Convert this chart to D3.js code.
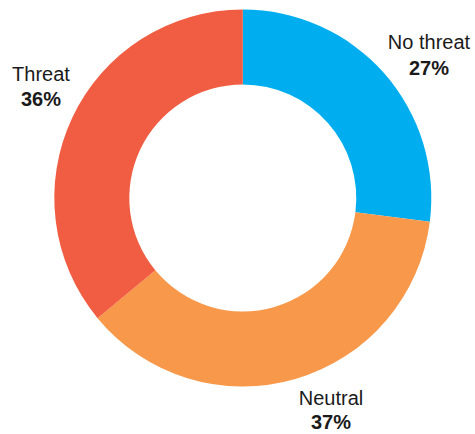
<!DOCTYPE html>
<html>
<head>
<meta charset="utf-8">
<script src="https://cdn.jsdelivr.net/npm/d3@7"></script>
<style>
  html, body { margin: 0; padding: 0; background: #fff; }
  svg text { font-family: "Liberation Sans", Arial, Helvetica, sans-serif; fill: #1a1a1a; }
</style>
</head>
<body>
<svg id="chart" width="475" height="434"></svg>
<script>
// Share of responses by perceived threat level
const categories = ["No threat", "Neutral", "Threat"];
const shares = [27, 37, 36];
const colors = ["#00AEEF", "#F7984A", "#F15D43"];

// Label anchor points (centre of label block, first-line baseline)
const labelX = [429, 331, 41];
const labelY = [49, 405, 81];
const lineGap = [26, 24, 25];

const cx = 242.8, cy = 198, outerR = 188.5, innerR = 113.5;

const svg = d3.select("#chart");

const data = categories.map((c, i) => ({
  name: c, value: shares[i], color: colors[i],
  lx: labelX[i], ly: labelY[i], gap: lineGap[i]
}));

const pie = d3.pie().value(d => d.value).sort(null);
const arc = d3.arc().innerRadius(innerR).outerRadius(outerR);

const g = svg.append("g").attr("transform", `translate(${cx},${cy})`);

g.selectAll("path")
  .data(pie(data))
  .join("path")
  .attr("d", arc)
  .attr("fill", d => d.data.color);

const labels = svg.append("g")
  .selectAll("text")
  .data(data)
  .join("text")
  .attr("text-anchor", "middle")
  .attr("x", d => d.lx)
  .attr("y", d => d.ly)
  .style("font-size", "20px");

labels.append("tspan")
  .attr("x", d => d.lx)
  .text(d => d.name);

labels.append("tspan")
  .attr("x", d => d.lx)
  .attr("dy", d => d.gap)
  .style("font-weight", "bold")
  .text(d => d.value + "%");
</script>
</body>
</html>
